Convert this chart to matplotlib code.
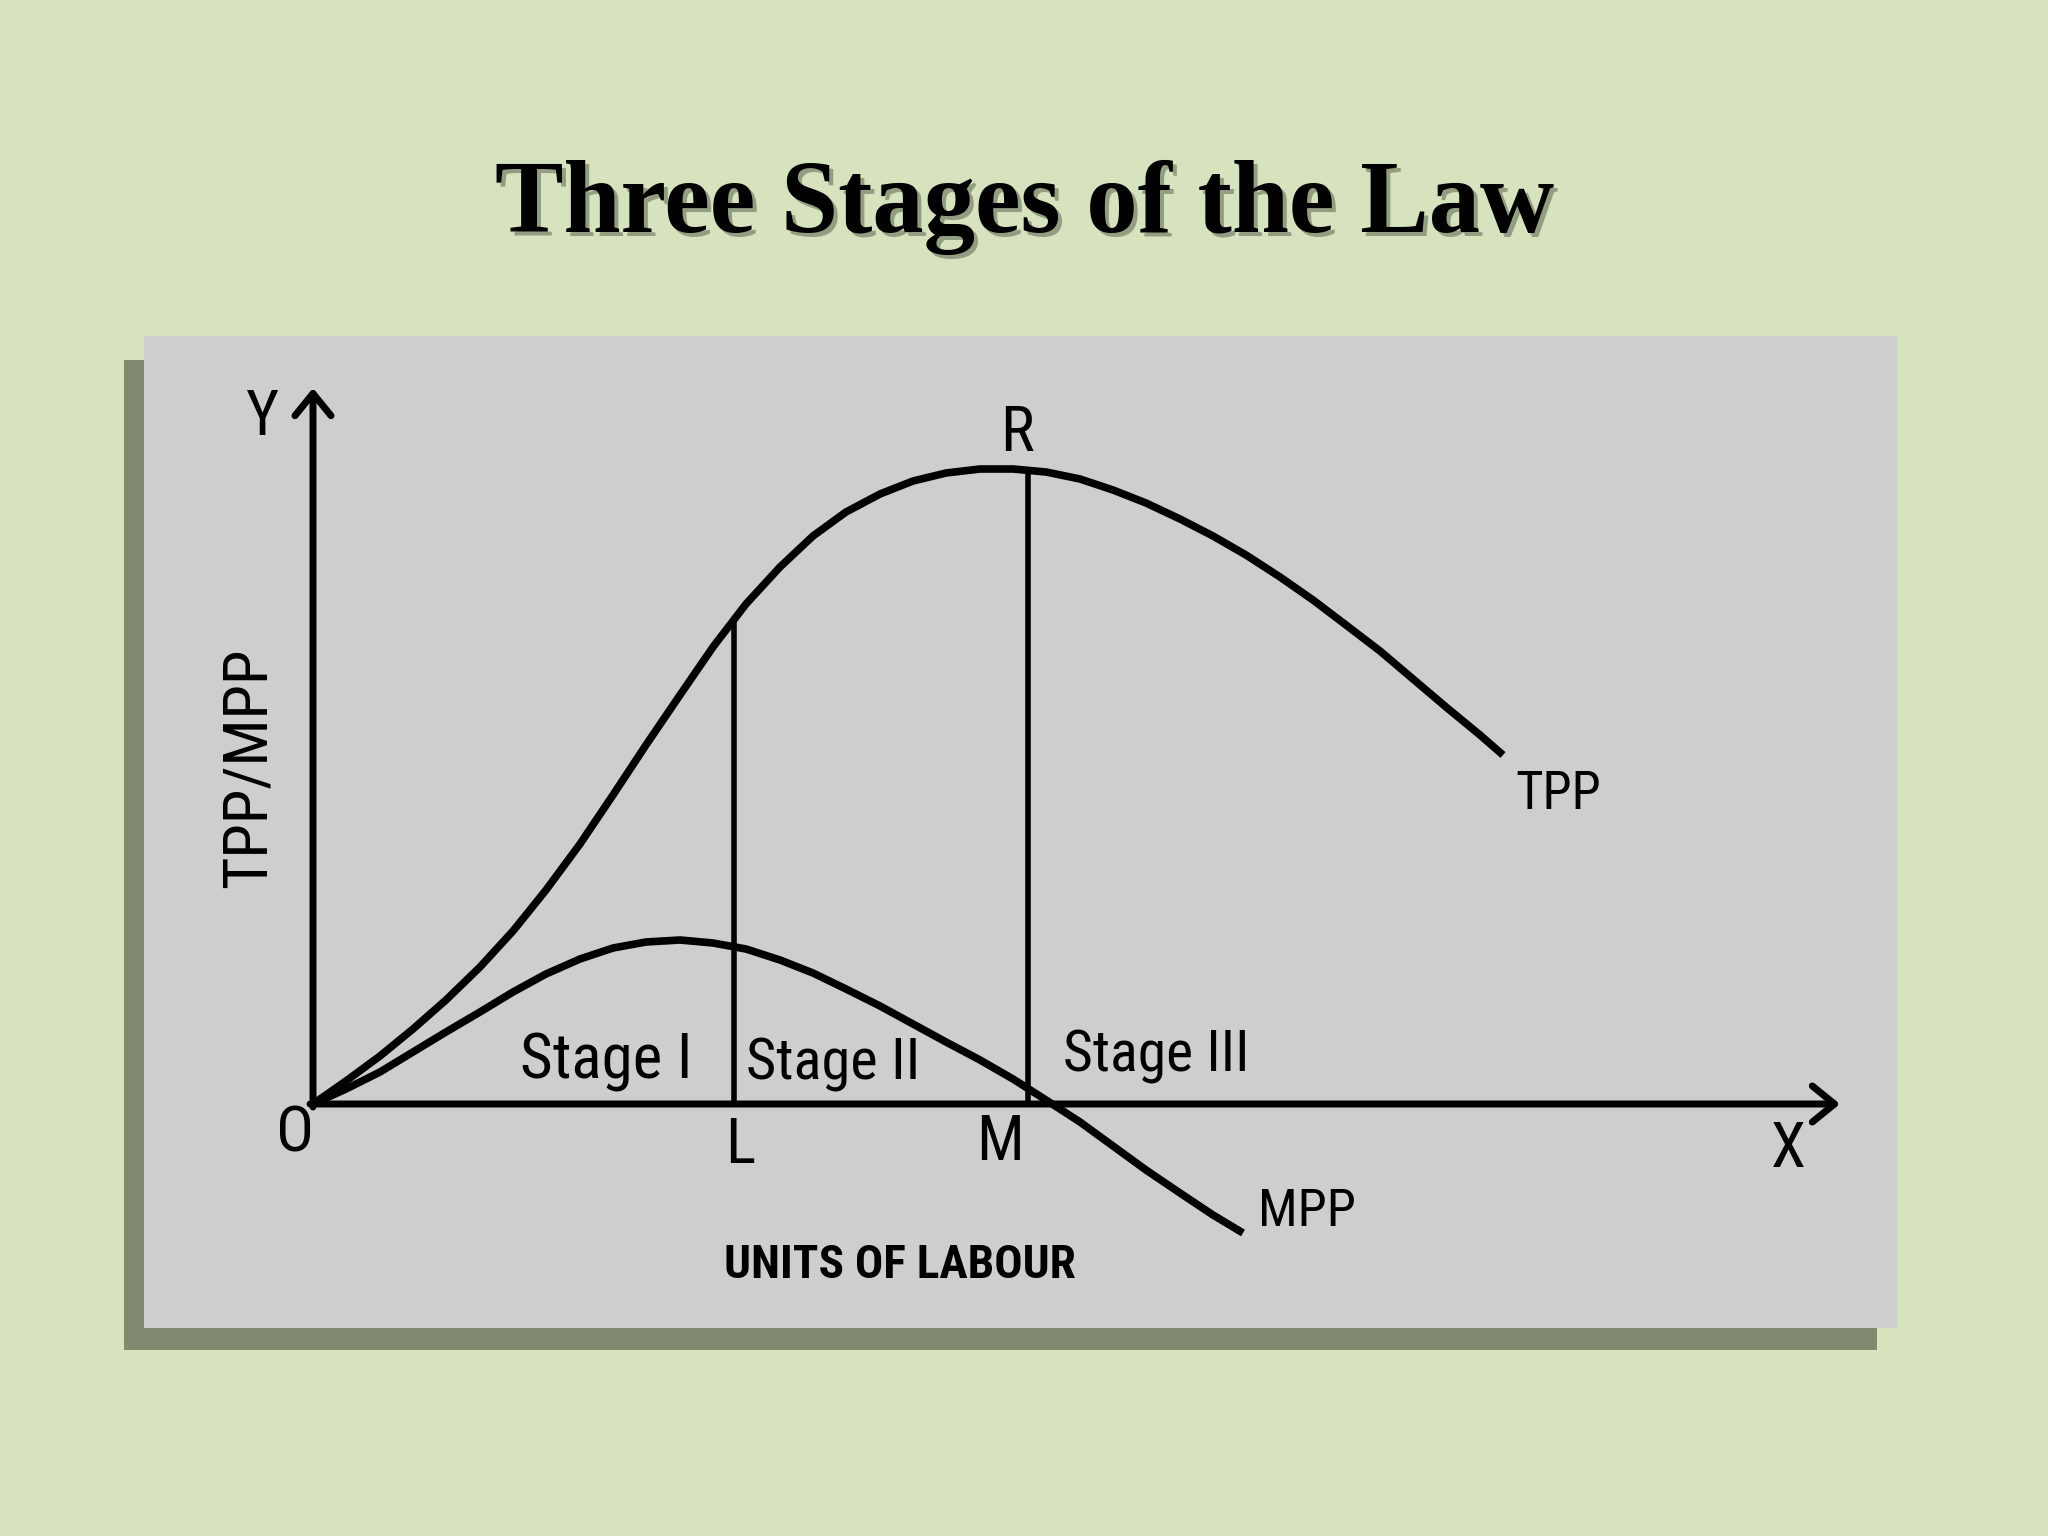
import os
import matplotlib.pyplot as plt
from matplotlib import font_manager as fm
from matplotlib.patches import Rectangle

# Curves (x = units of labour, y = product)
tpp_x = [0.00, 0.33, 0.67, 1.00, 1.33, 1.67, 2.00, 2.33, 2.67, 3.00, 3.33, 3.67,
         4.00, 4.33, 4.67, 5.00, 5.33, 5.67, 6.00, 6.33, 6.67, 7.00, 7.33, 7.67,
         8.00, 8.33, 8.67, 9.00, 9.33, 9.67, 10.00, 10.33, 10.67, 11.00, 11.33, 11.67, 11.90]
tpp_y = [0.00, 0.23, 0.48, 0.75, 1.04, 1.37, 1.73, 2.14, 2.60, 3.09, 3.59, 4.09,
         4.57, 5.00, 5.37, 5.68, 5.92, 6.10, 6.23, 6.31, 6.35, 6.35, 6.32, 6.25,
         6.14, 6.01, 5.85, 5.68, 5.49, 5.27, 5.04, 4.79, 4.53, 4.25, 3.97, 3.69, 3.49]

mpp_x = [0.00, 0.33, 0.67, 1.00, 1.33, 1.67, 2.00, 2.33, 2.67, 3.00, 3.33, 3.67,
         4.00, 4.33, 4.67, 5.00, 5.33, 5.67, 6.00, 6.33, 6.67, 7.00, 7.33, 7.67,
         8.00, 8.33, 8.67, 9.00, 9.30]
mpp_y = [0.00, 0.15, 0.32, 0.52, 0.72, 0.92, 1.12, 1.30, 1.45, 1.56, 1.62, 1.64,
         1.61, 1.55, 1.44, 1.31, 1.15, 0.98, 0.80, 0.62, 0.44, 0.25, 0.04, -0.18,
         -0.42, -0.66, -0.89, -1.11, -1.29]

# stage boundaries L and M, and TPP height there
point_L, point_M = 4.21, 7.15
tpp_L, tpp_M = 4.83, 6.34
x_end, y_end = 15.27, 7.16

stage_names = ['Stage I', 'Stage II', 'Stage III']

bg_color = '#d7e3bf'
panel_color = '#cecdcf'
shadow_color = '#7f8a6e'


# look for a narrow sans face, the drawing uses a tall condensed font
def narrow_font(names):
    files = {os.path.basename(f).lower(): f for f in fm.findSystemFonts()}
    for n in names:
        if n in files:
            return fm.FontProperties(fname=files[n])
    return fm.FontProperties(family='DejaVu Sans')


reg_font = narrow_font(['liberationsansnarrow-regular.ttf', 'notosans-condensed.ttf',
                        'notosans-condensed.otf', 'robotocondensed-regular.ttf',
                        'dejavusanscondensed.ttf'])
bold_font = narrow_font(['liberationsansnarrow-bold.ttf', 'notosans-condensedbold.ttf',
                         'notosans-condensedbold.otf', 'robotocondensed-bold.ttf',
                         'dejavusanscondensed-bold.ttf'])
if bold_font.get_file() is None:
    bold_font.set_weight('bold')

fig = plt.figure(figsize=(20.48, 15.36), dpi=100, facecolor=bg_color)

# title with a soft drop shadow
fig.text(0.5005 + 4 / 2048, 0.849 - 4 / 1536, 'Three Stages of the Law', ha='center', va='baseline',
         fontsize=74, fontweight='bold', family='Liberation Serif', color='#939d82')
fig.text(0.5005, 0.849, 'Three Stages of the Law', ha='center', va='baseline',
         fontsize=74, fontweight='bold', family='Liberation Serif', color='black')

# panel shadow
fig.patches.append(Rectangle((124 / 2048, 186 / 1536), 1753 / 2048, 990 / 1536,
                             transform=fig.transFigure, facecolor=shadow_color,
                             edgecolor='none', zorder=-1))

ax = fig.add_axes([144 / 2048, 208 / 1536, 1753 / 2048, 992 / 1536])
ax.set_facecolor(panel_color)
ax.set_xlim(-1.69, 15.84)
ax.set_ylim(-2.24, 7.68)
ax.set_xticks([])
ax.set_yticks([])
for s in ax.spines.values():
    s.set_visible(False)

# axes with open arrow heads
arrow = dict(arrowstyle='->,head_length=1.6,head_width=1.3', lw=5, color='black',
             shrinkA=0, shrinkB=0)
ax.annotate('', xy=(x_end, 0), xytext=(-0.03, 0), arrowprops=arrow)
ax.annotate('', xy=(0, y_end), xytext=(0, -0.03), arrowprops=arrow)

# curves
ax.plot(tpp_x, tpp_y, color='black', lw=5.5, solid_joinstyle='round', solid_capstyle='butt')
ax.plot(mpp_x, mpp_y, color='black', lw=5.5, solid_joinstyle='round', solid_capstyle='butt')

# stage dividers
ax.plot([point_L, point_L], [0, tpp_L], color='black', lw=4)
ax.plot([point_M, point_M], [0, tpp_M], color='black', lw=4)

renderer = fig.canvas.get_renderer()


def fit(t, target, along='width'):
    # scale the font so the label spans the same number of pixels as in the drawing
    bb = t.get_window_extent(renderer)
    size = bb.width if along == 'width' else bb.height
    t.set_fontsize(t.get_fontsize() * target / size)
    return t.get_fontsize()


tpp_lab = ax.text(12.02, 3.09, 'TPP', fontproperties=reg_font, fontsize=36, ha='left', va='center')
mpp_lab = ax.text(9.45, -1.08, 'MPP', fontproperties=reg_font, fontsize=36, ha='left', va='center')
tpp_size = fit(tpp_lab, 86)
fit(mpp_lab, 98)
letter_size = tpp_size * 1.2

for txt, xc, yc in [('O', -0.18, -0.30), ('L', 4.27, -0.42), ('M', 6.87, -0.39),
                    ('X', 14.75, -0.46), ('Y', -0.51, 6.86), ('R', 7.04, 6.70)]:
    ax.text(xc, yc, txt, fontproperties=reg_font, fontsize=letter_size, ha='center', va='center')

for name, xl, yb, w in zip(stage_names, [2.07, 4.33, 7.50], [0.26, 0.24, 0.33], [172, 174, 186]):
    st = ax.text(xl, yb, name, fontproperties=reg_font, fontsize=40, ha='left', va='baseline')
    fit(st, w)

units = ax.text(5.87, -1.61, 'UNITS OF LABOUR', fontproperties=bold_font, fontsize=34,
                ha='center', va='center')
fit(units, 352)
ylab = ax.text(-0.64, 3.36, 'TPP/MPP', fontproperties=reg_font, fontsize=40, rotation=90,
               ha='center', va='center')
fit(ylab, 240, along='height')

fig.savefig('out.png', dpi=100, facecolor=bg_color)
